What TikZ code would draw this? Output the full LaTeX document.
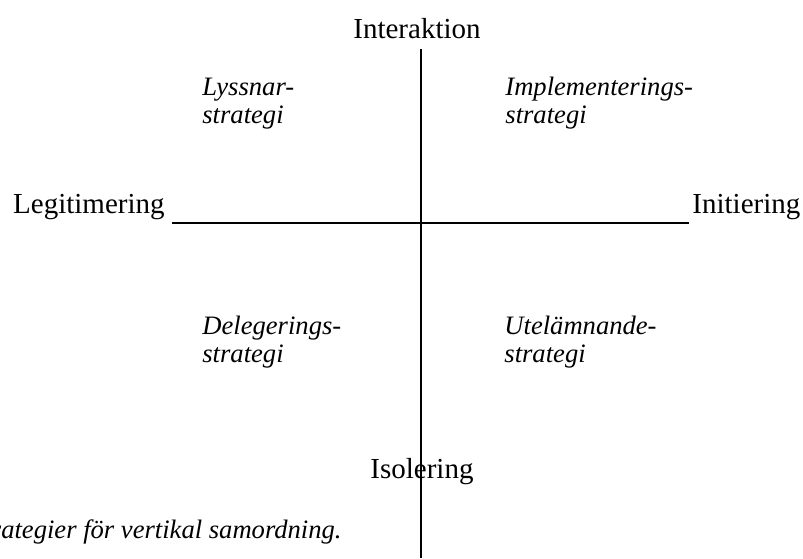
\documentclass[tikz,border=0pt]{standalone}
\usepackage{fontspec}
\setmainfont{Liberation Serif}
\begin{document}
\begin{tikzpicture}[x=0.5pt,y=-0.5pt,
		pole/.style={font=\fontsize{14.5}{16}\selectfont,inner sep=0pt},
		strat/.style={font=\fontsize{13.3}{14}\selectfont\itshape,align=left,anchor=base west,inner sep=0pt},
		axis/.style={line width=0.9pt}]
		\useasboundingbox (0,0) rectangle (803,558);
		\node[pole,anchor=base] (int) at (417,38) {Interaktion};
		\node[pole,anchor=base east] (leg) at (165,213) {Legitimering};
		\node[pole,anchor=base west] (ini) at (692,213) {Initiering};
		\coordinate (west) at (172,223);
		\coordinate (east) at (689,223);
		\coordinate (north) at (421,49);
		\coordinate (south) at (421,558);
		\draw[axis] (west) -- (east);
		\draw[axis] (north) -- (south);
		\node[pole,anchor=base] (iso) at (422,478) {Isolering};
		\node[strat] (lyss) at (202,123) {Lyssnar-\\strategi};
		\node[strat] (impl) at (505,123) {Implementerings-\\strategi};
		\node[strat] (dele) at (202,362) {Delegerings-\\strategi};
		\node[strat] (utel) at (504,362) {Utelämnande-\\strategi};
		\node[font=\fontsize{13.3}{14}\selectfont\itshape,anchor=base east,inner sep=0pt] (cap) at (342,538) {rategier för vertikal samordning.};
\end{tikzpicture}
\end{document}
